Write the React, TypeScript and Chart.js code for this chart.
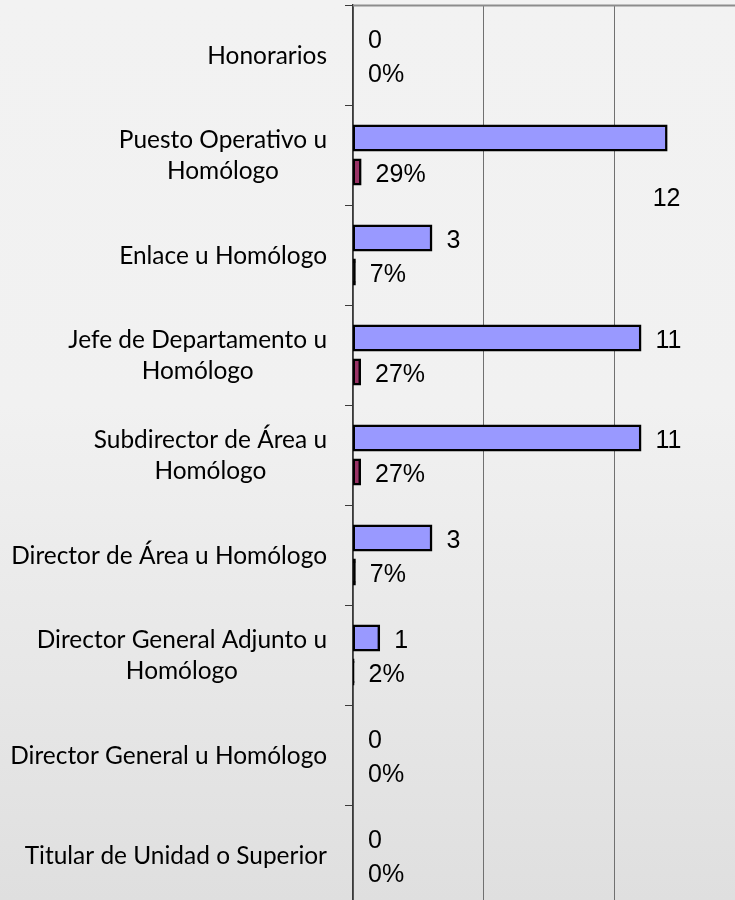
import React, { useEffect, useRef } from "react";
import { Chart, registerables } from "chart.js";

Chart.register(...registerables);

const categories: string[][] = [
  ["Honorarios"],
  ["Puesto Operativo u", "Homólogo"],
  ["Enlace u Homólogo"],
  ["Jefe de Departamento u", "Homólogo"],
  ["Subdirector de Área u", "Homólogo"],
  ["Director de Área u Homólogo"],
  ["Director General Adjunto u", "Homólogo"],
  ["Director General u Homólogo"],
  ["Titular de Unidad o Superior"],
];
const counts = [0, 12, 3, 11, 11, 3, 1, 0, 0];
const shares = [0, 0.29, 0.07, 0.27, 0.27, 0.07, 0.02, 0, 0];
const xMin = 0;
const xMax = 15;
const xStep = 5;

const CAT_FONT = "Lato, 'Open Sans', sans-serif";
const VAL_FONT = "'Liberation Sans', Arial, sans-serif";

const labelPlugin = {
  id: "customLabels",
  afterDatasetsDraw(chart: any) {
    const ctx: CanvasRenderingContext2D = chart.ctx;
    const area = chart.chartArea;
    const yScale = chart.scales.y;
    ctx.save();

    // top border of plot area
    ctx.fillStyle = "#8c8c8c";
    ctx.fillRect(area.left, area.top - 0.5, area.right - area.left, 2);

    // category labels (block right-aligned, lines centered)
    ctx.font = `100px ${CAT_FONT}`;
    const ref = ctx.measureText("Director General u Homólogo").width;
    const size = (317 / ref) * 100;
    ctx.font = `${size}px ${CAT_FONT}`;
    ctx.fillStyle = "#000";
    ctx.textAlign = "center";
    ctx.textBaseline = "alphabetic";
    const lineH = 31.7;
    categories.forEach((lines, i) => {
      const cy = yScale.getPixelForValue(i);
      const maxW = Math.max(...lines.map((l) => ctx.measureText(l).width));
      const cx = area.left - 26 - maxW / 2;
      lines.forEach((l, k) => {
        const by = cy + 8.5 + (k - (lines.length - 1) / 2) * lineH;
        ctx.fillText(l, cx, by);
      });
    });

    // value labels
    ctx.font = `25px ${VAL_FONT}`;
    const m0 = chart.getDatasetMeta(0);
    const m1 = chart.getDatasetMeta(1);
    const maxCount = Math.max(...counts);
    counts.forEach((v, i) => {
      const el = m0.data[i];
      const cy = yScale.getPixelForValue(i);
      if (v === maxCount) {
        ctx.textAlign = "center";
        ctx.fillText(String(v), el.x, cy + 51);
      } else {
        ctx.textAlign = "left";
        ctx.fillText(String(v), el.x + 15, el.y + 10);
      }
    });
    shares.forEach((v, i) => {
      const el = m1.data[i];
      ctx.textAlign = "left";
      ctx.fillText(Math.round(v * 100) + "%", el.x + 15, el.y + 10);
    });
    ctx.restore();
  },
};

const inflate = (c: any) => (c.raw === 0 ? 0 : 1);
// very thin bars show only their black outline
const shareFill = (c: any) => (c.raw < 0.1 ? "#000000" : "#993366");

export default function App() {
  const ref = useRef<HTMLCanvasElement | null>(null);

  useEffect(() => {
    if (!ref.current) return;
    const chart = new Chart(ref.current, {
      type: "bar",
      data: {
        labels: categories.map((c) => c.join(" ")),
        datasets: [
          {
            data: counts,
            backgroundColor: "#9999ff",
            borderColor: "#000000",
            borderWidth: 2.5,
            borderSkipped: false,
            inflateAmount: inflate,
            categoryPercentage: 0.68,
            barPercentage: 0.74,
          },
          {
            data: shares,
            backgroundColor: shareFill,
            borderColor: "#000000",
            borderWidth: 2.5,
            borderSkipped: false,
            inflateAmount: inflate,
            categoryPercentage: 0.68,
            barPercentage: 0.74,
          },
        ],
      },
      options: {
        indexAxis: "y",
        responsive: false,
        maintainAspectRatio: false,
        animation: false,
        devicePixelRatio: 1,
        layout: { padding: { left: 0, right: 15, top: 5, bottom: 15 } },
        plugins: {
          legend: { display: false },
          tooltip: { enabled: false },
        },
        scales: {
          x: {
            min: xMin,
            max: xMax,
            ticks: { display: false, stepSize: xStep },
            grid: { color: "#707070", lineWidth: 1, drawTicks: false },
            border: { display: false },
            afterFit: (s: any) => {
              s.height = 0;
            },
          },
          y: {
            ticks: { display: false },
            grid: {
              drawOnChartArea: false,
              drawTicks: true,
              tickLength: 8,
              color: "#3a3a3a",
              offset: true,
            },
            border: { display: true, color: "#3a3a3a", width: 1.5 },
            afterFit: (s: any) => {
              s.width = 353;
            },
          },
        },
      },
      plugins: [labelPlugin],
    } as any);
    return () => chart.destroy();
  }, []);

  return (
    <div
      style={{
        position: "fixed",
        left: 0,
        top: 0,
        width: 735,
        height: 900,
        overflow: "hidden",
        background:
          "linear-gradient(to bottom, #f2f2f2 0%, #f1f1f1 45%, #dfdfdf 100%)",
      }}
    >
      <canvas
        ref={ref}
        width={760}
        height={920}
        style={{ display: "block", width: 760, height: 920 }}
      />
    </div>
  );
}
